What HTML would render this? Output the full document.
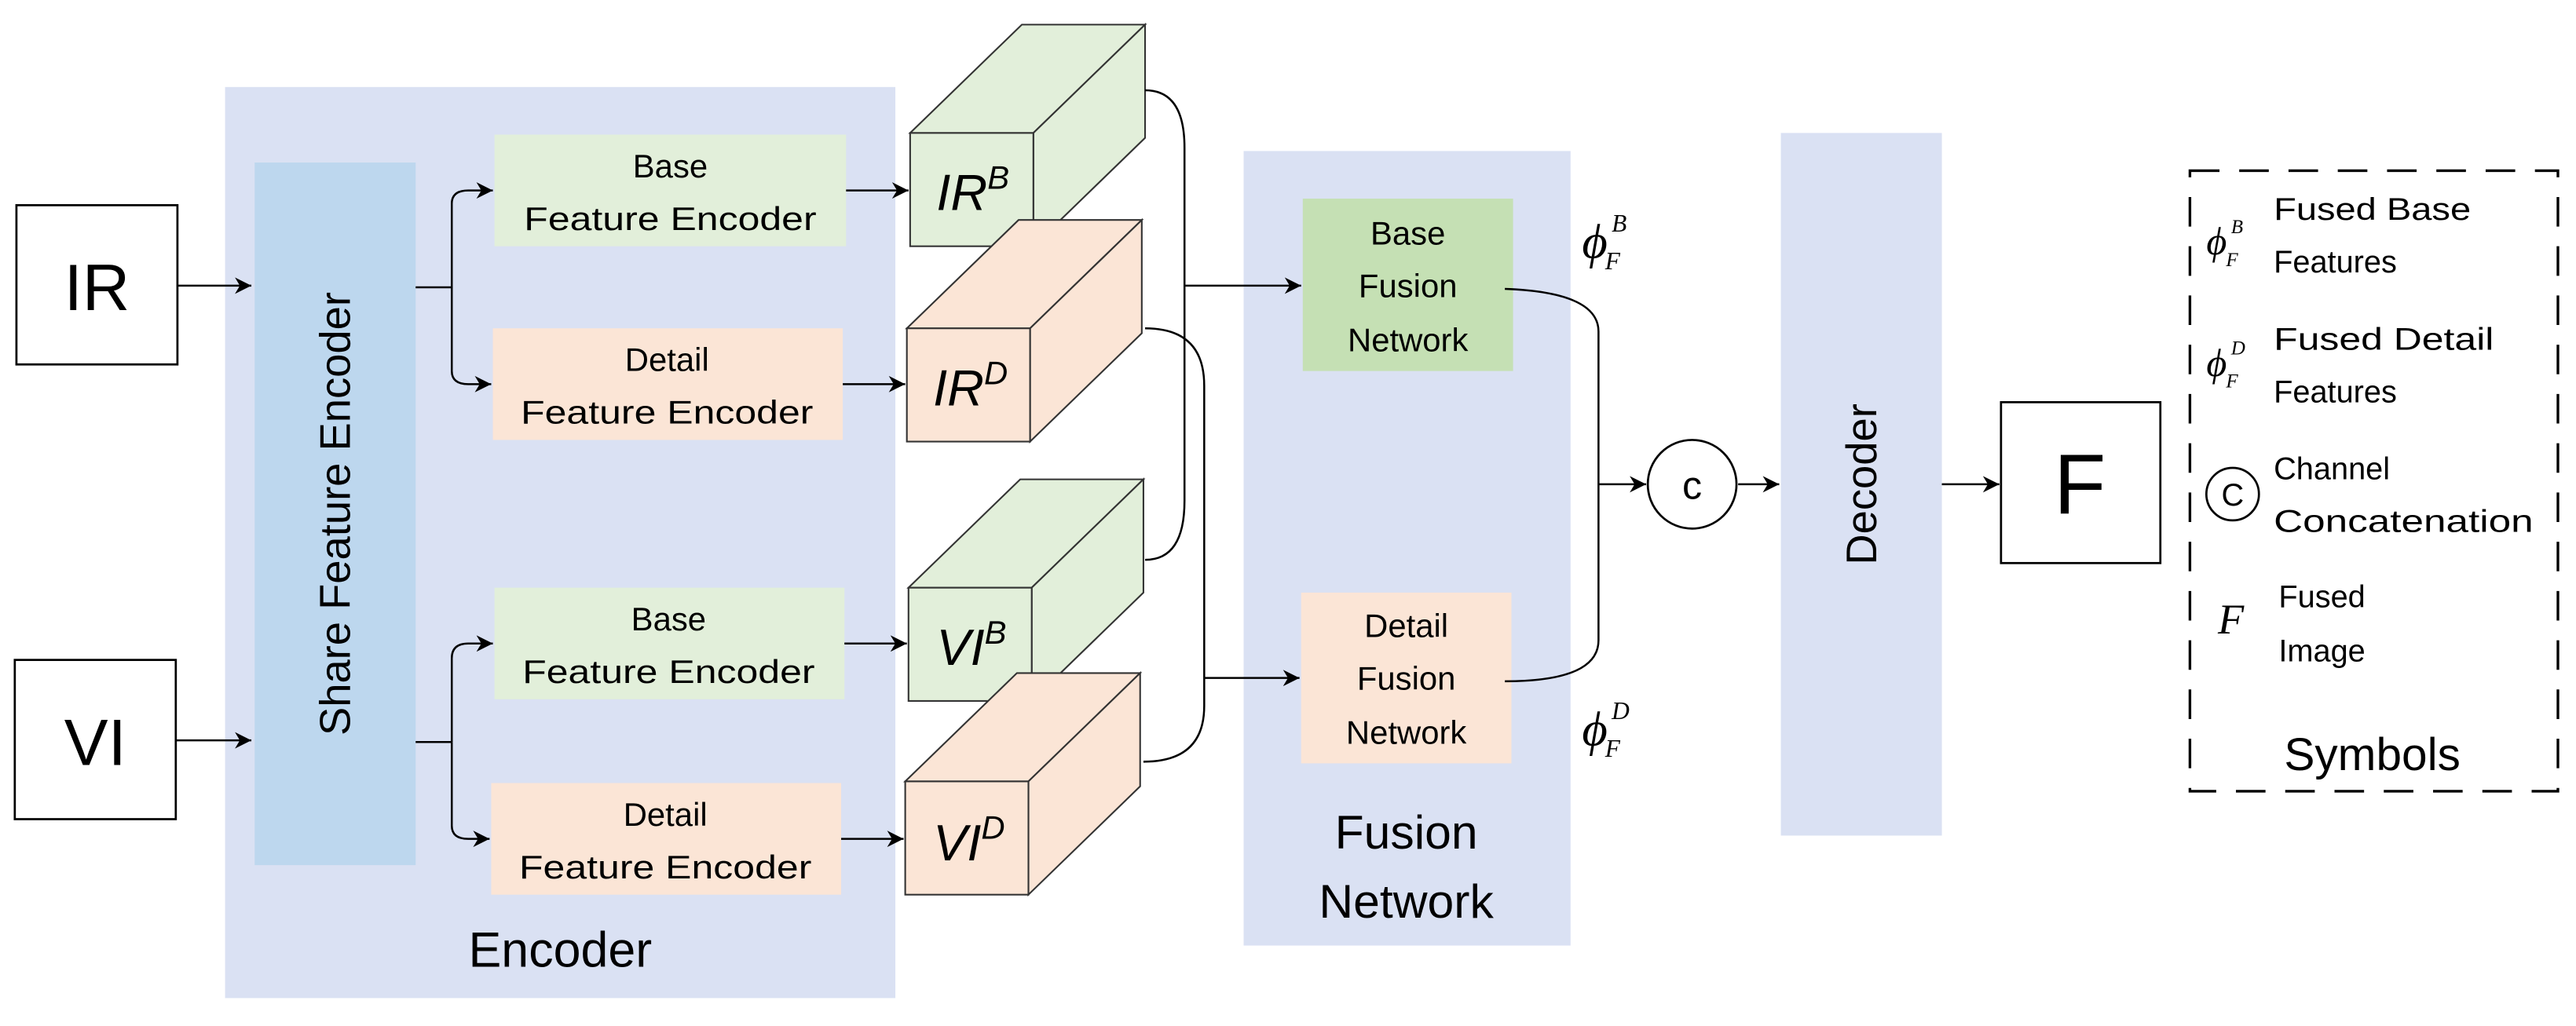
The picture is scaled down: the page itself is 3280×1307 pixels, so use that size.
<!DOCTYPE html>
<html><head><meta charset="utf-8"><style>
html,body{margin:0;padding:0;background:#fff;width:3280px;height:1307px;overflow:hidden}
text{font-family:"Liberation Sans",sans-serif;fill:#000}
.s{font-family:"Liberation Serif",serif;font-style:italic}
</style></head><body>
<svg width="3280" height="1307" viewBox="0 0 1568 625" preserveAspectRatio="none" xmlns="http://www.w3.org/2000/svg">
<defs>
<marker id="a" viewBox="0 0 10 10" refX="10" refY="5" markerWidth="11" markerHeight="10" markerUnits="userSpaceOnUse" orient="auto"><path d="M0,0L10,5L0,10L3,5z" fill="#000"/></marker>
</defs>
<g stroke="none">
<rect x="137" y="53" width="408" height="555" fill="#dae1f3"/>
<rect x="757" y="92" width="199" height="484" fill="#dae1f3"/>
<rect x="1084" y="81" width="98" height="428" fill="#dae1f3"/>
<rect x="155" y="99" width="98" height="428" fill="#bdd7ee"/>
<rect x="301" y="82" width="214" height="68" fill="#e2efda"/>
<rect x="300" y="200" width="213" height="68" fill="#fbe5d6"/>
<rect x="301" y="358" width="213" height="68" fill="#e2efda"/>
<rect x="299" y="477" width="213" height="68" fill="#fbe5d6"/>
<rect x="793" y="121" width="128" height="105" fill="#c5e0b4"/>
<rect x="792" y="361" width="128" height="104" fill="#fbe5d6"/>
</g>
<g fill="#fff" stroke="#000" stroke-width="1.3">
<rect x="10" y="125" width="98" height="97"/>
<rect x="9" y="402" width="98" height="97"/>
<rect x="1218" y="245" width="97" height="98"/>
<circle cx="1030" cy="295" r="27"/>
<circle cx="1359" cy="301" r="16"/>
</g>
<rect x="1333" y="104" width="224" height="378" fill="none" stroke="#000" stroke-width="1.6" stroke-dasharray="18,12"/>
<g stroke="#333" stroke-width="1">
<g transform="translate(554,81)" fill="#e2efda"><path d="M0,0L68,-66L143,-66L75,0z"/><path d="M75,0L143,-66L143,3L75,69z"/><rect width="75" height="69"/></g>
<g transform="translate(552,200)" fill="#fbe5d6"><path d="M0,0L68,-66L143,-66L75,0z"/><path d="M75,0L143,-66L143,3L75,69z"/><rect width="75" height="69"/></g>
<g transform="translate(553,358)" fill="#e2efda"><path d="M0,0L68,-66L143,-66L75,0z"/><path d="M75,0L143,-66L143,3L75,69z"/><rect width="75" height="69"/></g>
<g transform="translate(551,476)" fill="#fbe5d6"><path d="M0,0L68,-66L143,-66L75,0z"/><path d="M75,0L143,-66L143,3L75,69z"/><rect width="75" height="69"/></g>
</g>
<g fill="none" stroke="#000" stroke-width="1.2">
<path d="M108,174H153" marker-end="url(#a)"/>
<path d="M107,451H153" marker-end="url(#a)"/>
<path d="M253,175H275"/>
<path d="M275,175V124Q275,116 285,116H300" marker-end="url(#a)"/>
<path d="M275,175V226Q275,234 285,234H299" marker-end="url(#a)"/>
<path d="M253,452H275"/>
<path d="M275,452V401Q275,392 285,392H300" marker-end="url(#a)"/>
<path d="M275,452V503Q275,511 285,511H298" marker-end="url(#a)"/>
<path d="M515,116H553" marker-end="url(#a)"/>
<path d="M513,234H551" marker-end="url(#a)"/>
<path d="M514,392H552" marker-end="url(#a)"/>
<path d="M512,511H550" marker-end="url(#a)"/>
<path d="M697,55Q721,55 721,90V305Q721,341 697,341"/>
<path d="M721,174H792" marker-end="url(#a)"/>
<path d="M697,200Q733,200 733,235V430Q733,464 696,464"/>
<path d="M733,413H791" marker-end="url(#a)"/>
<path d="M916,176Q973,178 973,202V390Q973,415 916,415"/>
<path d="M973,295H1002" marker-end="url(#a)"/>
<path d="M1058,295H1083" marker-end="url(#a)"/>
<path d="M1182,295H1217" marker-end="url(#a)"/>
</g>
<g text-anchor="middle">
<text x="59" y="189" font-size="40">IR</text>
<text x="58" y="466" font-size="40">VI</text>
<text x="1266" y="313" font-size="52" font-family="Liberation Serif,serif">F</text>
<text x="341" y="589" font-size="30">Encoder</text>
<text transform="translate(213,313) rotate(-90)" font-size="26">Share Feature Encoder</text>
<text transform="translate(1142,295) rotate(-90)" font-size="26">Decoder</text>
<g font-size="20">
<text x="408" y="108">Base</text><text x="408" y="140" textLength="178" lengthAdjust="spacingAndGlyphs">Feature Encoder</text>
<text x="406" y="226">Detail</text><text x="406" y="258" textLength="178" lengthAdjust="spacingAndGlyphs">Feature Encoder</text>
<text x="407" y="384">Base</text><text x="407" y="416" textLength="178" lengthAdjust="spacingAndGlyphs">Feature Encoder</text>
<text x="405" y="503">Detail</text><text x="405" y="535" textLength="178" lengthAdjust="spacingAndGlyphs">Feature Encoder</text>
<text x="857" y="149">Base</text><text x="857" y="181">Fusion</text><text x="857" y="214">Network</text>
<text x="856" y="388">Detail</text><text x="856" y="420">Fusion</text><text x="856" y="453">Network</text>
</g>
<text x="856" y="517" font-size="29">Fusion</text>
<text x="856" y="559" font-size="29">Network</text>
<text x="1030" y="304" font-size="24">c</text>
<text x="1359" y="308" font-size="19">C</text>
<text x="1444" y="469" font-size="28">Symbols</text>
</g>
<g font-size="31" font-style="italic">
<text x="570" y="128">IR<tspan dy="-13" font-size="20">B</tspan></text>
<text x="568" y="247">IR<tspan dy="-13" font-size="20">D</tspan></text>
<text x="570" y="405">VI<tspan dy="-13" font-size="20">B</tspan></text>
<text x="568" y="524">VI<tspan dy="-13" font-size="20">D</tspan></text>
</g>
<g>
<text x="963" y="157" font-size="30" class="s">ϕ</text><text x="981" y="141" font-size="15" class="s">B</text><text x="977" y="164" font-size="15" class="s">F</text>
<text x="963" y="454" font-size="30" class="s">ϕ</text><text x="981" y="438" font-size="15" class="s">D</text><text x="977" y="461" font-size="15" class="s">F</text>
<text x="1343" y="155" font-size="24" class="s">ϕ</text><text x="1358" y="142" font-size="12" class="s">B</text><text x="1355" y="162" font-size="12" class="s">F</text>
<text x="1343" y="229" font-size="24" class="s">ϕ</text><text x="1358" y="216" font-size="12" class="s">D</text><text x="1355" y="236" font-size="12" class="s">F</text>
<text x="1350" y="386" font-size="26" class="s">F</text>
</g>
<g font-size="19">
<text x="1384" y="134" textLength="120" lengthAdjust="spacingAndGlyphs">Fused Base</text><text x="1384" y="166">Features</text>
<text x="1384" y="213" textLength="134" lengthAdjust="spacingAndGlyphs">Fused Detail</text><text x="1384" y="245">Features</text>
<text x="1384" y="292">Channel</text><text x="1384" y="324" textLength="158" lengthAdjust="spacingAndGlyphs">Concatenation</text>
<text x="1387" y="370">Fused</text><text x="1387" y="403">Image</text>
</g>
</svg>
</body></html>
